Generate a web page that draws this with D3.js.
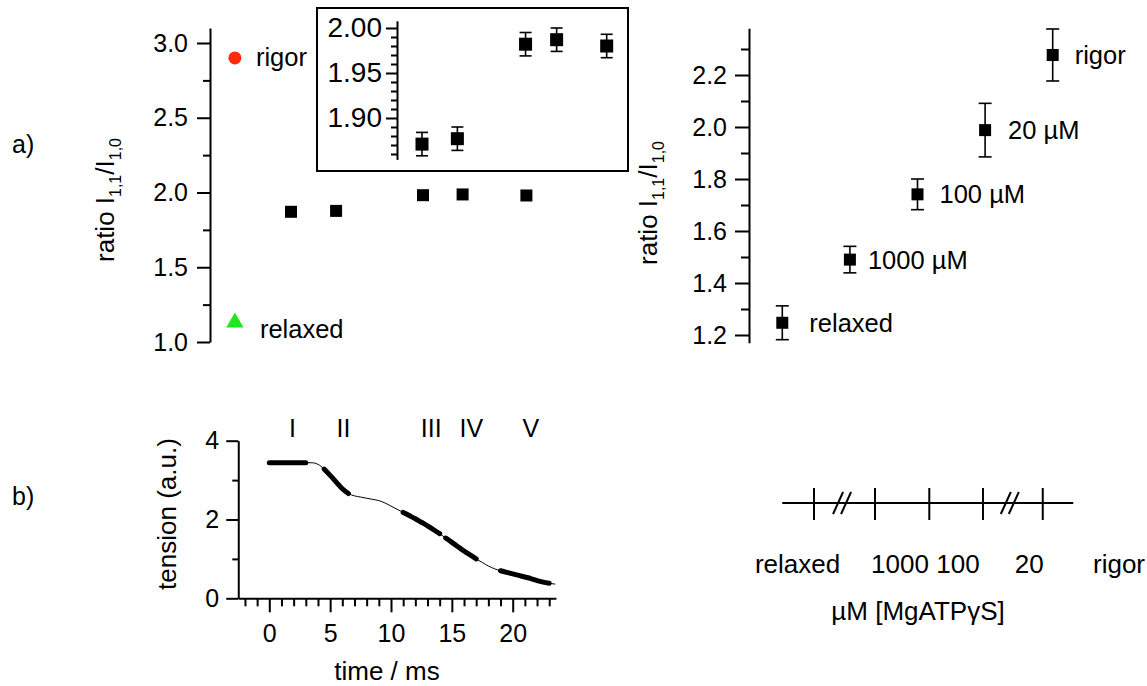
<!DOCTYPE html>
<html>
<head>
<meta charset="utf-8">
<script src="https://cdn.jsdelivr.net/npm/d3@7"></script>
<style>
  body { margin: 0; background: #fff; }
  svg text { font-family: "Liberation Sans", Arial, sans-serif; fill: #000; }
  .axis .domain, .axis line { stroke: #000; stroke-width: 2; }
</style>
</head>
<body>
<svg id="chart" width="1147" height="686"></svg>
<script>
// ---- data ----
// a) left: ratio per phase (x position ~ time in ms)
const phaseTime = [1.5, 5.6, 13.5, 17.1, 22.9];
const phaseRatio = [1.871, 1.877, 1.982, 1.987, 1.980];
const phaseErr = [0.013, 0.013, 0.013, 0.013, 0.013];
const refNames = ['rigor', 'relaxed'];
const refRatio = [2.90, 1.13];
const refColor = ['#ff2b0a', '#1ee81e'];
const refTime = -3.6;

// a) right: ratio vs MgATPgS concentration
const concNames = ['relaxed', '1000 µM', '100 µM', '20 µM', 'rigor'];
const concRatio = [1.247, 1.490, 1.741, 1.988, 2.277];
const concErr = [0.065, 0.051, 0.059, 0.103, 0.100];
const concLabelGap = [27, 18, 22, 23, 22];

// b) left: tension transient
const tTime = [0, 1, 2, 3, 3.5, 4, 4.5, 5, 5.5, 6, 6.5, 7, 7.5, 8, 8.5, 9, 9.5, 10, 10.5, 11, 11.5,
  12, 12.5, 13, 13.5, 14, 14.5, 15, 15.5, 16, 16.5, 17, 17.5, 18, 18.5, 19, 19.5, 20, 20.5, 21, 21.5,
  22, 22.5, 23, 23.5];
const tTension = [3.44, 3.44, 3.44, 3.44, 3.44, 3.40, 3.28, 3.12, 2.95, 2.78, 2.66, 2.60, 2.57, 2.54,
  2.51, 2.48, 2.42, 2.34, 2.26, 2.18, 2.10, 2.02, 1.93, 1.84, 1.74, 1.64, 1.53, 1.42, 1.31, 1.20, 1.10,
  1.00, 0.91, 0.82, 0.75, 0.70, 0.66, 0.62, 0.58, 0.54, 0.50, 0.45, 0.41, 0.38, 0.36];
const phaseNames = ['I', 'II', 'III', 'IV', 'V'];
const phaseStart = [0, 4.5, 11, 14.5, 19];
const phaseEnd = [3, 6.5, 14, 17, 23];
const phaseLabelTime = [1.9, 6.1, 13.3, 16.6, 21.5];

// b) right: concentration scale sketch
const concTickPos = [0, 1, 1.89, 2.77, 3.75];
const concBreakPos = [0.46, 3.21];
const concLabelText = ['relaxed', '1000', '100', '20', 'rigor'];
const concLabelPos = [-0.27, 1.41, 2.36, 3.53, 5.0];
const concLineExtent = [-0.52, 4.25];

// ---- helpers ----
const svg = d3.select('#chart');

function yAxis(scale, x, majors, minors, fmt, opts) {
  const g = svg.append('g').attr('class', 'axis').attr('transform', `translate(${x},0)`);
  g.call(d3.axisLeft(scale).tickValues(majors).tickSize(opts.major).tickSizeOuter(0)
    .tickPadding(opts.pad).tickFormat(fmt));
  g.selectAll('text').style('font-size', opts.font + 'px');
  const m = svg.append('g').attr('class', 'axis').attr('transform', `translate(${x},0)`);
  m.call(d3.axisLeft(scale).tickValues(minors).tickSize(opts.minor).tickSizeOuter(0).tickFormat(''));
  m.select('.domain').remove();
  return g;
}

function ratioTitle(x, y) {
  const t = svg.append('text')
    .attr('transform', `translate(${x},${y}) rotate(-90)`)
    .attr('text-anchor', 'middle')
    .style('font-size', '26px');
  t.append('tspan').text('ratio I');
  t.append('tspan').attr('dy', 7).style('font-size', '16px').text('1,1');
  t.append('tspan').attr('dy', -7).text('/I');
  t.append('tspan').attr('dy', 7).style('font-size', '16px').text('1,0');
}

function squares(xs, ys, size) {
  svg.append('g').selectAll('rect')
    .data(d3.range(xs.length))
    .join('rect')
    .attr('x', i => xs[i] - size / 2)
    .attr('y', i => ys[i] - size / 2)
    .attr('width', size)
    .attr('height', size)
    .attr('fill', '#000');
}

function errorBars(xs, yTop, yBot, cap) {
  const g = svg.append('g').attr('stroke', '#000').attr('stroke-width', 1.6);
  xs.forEach((x, i) => {
    g.append('line').attr('x1', x).attr('x2', x).attr('y1', yTop[i]).attr('y2', yBot[i]);
    g.append('line').attr('x1', x - cap / 2).attr('x2', x + cap / 2).attr('y1', yTop[i]).attr('y2', yTop[i]);
    g.append('line').attr('x1', x - cap / 2).attr('x2', x + cap / 2).attr('y1', yBot[i]).attr('y2', yBot[i]);
  });
}

// ---- panel a) left ----
const xA = d3.scaleLinear().domain([-5, 25]).range([219.5, 549.5]);
const yA = d3.scaleLinear().domain([1.0, 3.1]).range([342, 342 - 2.1 * 149.5]);
yAxis(yA, 210, [1.0, 1.5, 2.0, 2.5, 3.0], [1.25, 1.75, 2.25, 2.75], d3.format('.1f'),
  { major: 13, minor: 7, pad: 9, font: 25 });
ratioTitle(114, 200);

squares(phaseTime.map(xA), phaseRatio.map(yA), 12);

svg.append('circle').attr('cx', xA(refTime)).attr('cy', yA(refRatio[0])).attr('r', 6.5).attr('fill', refColor[0]);
svg.append('path')
  .attr('d', d3.symbol(d3.symbolTriangle, 130)())
  .attr('transform', `translate(${xA(refTime)},${yA(refRatio[1])})`)
  .attr('fill', refColor[1]);
svg.append('text').attr('x', xA(refTime) + 21).attr('y', yA(refRatio[0]) + 8)
  .style('font-size', '25.5px').text(refNames[0]);
svg.append('text').attr('x', xA(refTime) + 25).attr('y', yA(refRatio[1]) + 15)
  .style('font-size', '25.5px').text(refNames[1]);

svg.append('text').attr('x', 12).attr('y', 153).style('font-size', '25px').text('a)');

// inset
svg.append('rect').attr('x', 317).attr('y', 8).attr('width', 311).attr('height', 163)
  .attr('fill', '#fff').attr('stroke', '#000').attr('stroke-width', 2);
const xI = d3.scaleLinear().domain([-5, 25]).range([422 - 6.5 * 8.63, 422 + 23.5 * 8.63]);
const yI = d3.scaleLinear().domain([1.854, 2.008]).range([118 + 0.046 * 900, 118 - 0.108 * 900]);
yAxis(yI, 397, [1.90, 1.95, 2.00], [1.86, 1.87, 1.88, 1.89, 1.91, 1.92, 1.93, 1.94, 1.96, 1.97, 1.98, 1.99],
  d3.format('.2f'), { major: 11, minor: 6, pad: 4, font: 28 });
errorBars(phaseTime.map(xI), phaseRatio.map((v, i) => yI(v + phaseErr[i])),
  phaseRatio.map((v, i) => yI(v - phaseErr[i])), 12);
squares(phaseTime.map(xI), phaseRatio.map(yI), 13);

// ---- panel a) right ----
const xB = d3.scaleLinear().domain([0, 4]).range([782.3, 782.3 + 4 * 67.6]);
const yB = d3.scaleLinear().domain([1.17, 2.38]).range([335 + 0.03 * 260, 335 - 1.18 * 260]);
yAxis(yB, 749, [1.2, 1.4, 1.6, 1.8, 2.0, 2.2], [1.3, 1.5, 1.7, 1.9, 2.1, 2.3], d3.format('.1f'),
  { major: 14, minor: 8, pad: 8, font: 25 });
ratioTitle(657, 203);
const concIdx = d3.range(concNames.length);
errorBars(concIdx.map(xB), concRatio.map((v, i) => yB(v + concErr[i])),
  concRatio.map((v, i) => yB(v - concErr[i])), 13);
squares(concIdx.map(xB), concRatio.map(yB), 12);
svg.append('g').selectAll('text')
  .data(concIdx)
  .join('text')
  .attr('x', i => xB(i) + concLabelGap[i])
  .attr('y', i => yB(concRatio[i]) + 9)
  .style('font-size', '25.5px')
  .text(i => concNames[i]);

// ---- panel b) left ----
const xT = d3.scaleLinear().domain([-2.55, 23.55]).range([269.3 - 2.55 * 12.17, 269.3 + 23.55 * 12.17]);
const yT = d3.scaleLinear().domain([0, 4]).range([598.3, 440.7]);
yAxis(yT, xT.range()[0], [0, 2, 4], [1, 3], d3.format('d'), { major: 12, minor: 6, pad: 7, font: 25 });

const gx = svg.append('g').attr('class', 'axis').attr('transform', `translate(0,${yT(0)})`);
gx.call(d3.axisBottom(xT).tickValues([0, 5, 10, 15, 20]).tickSize(14).tickSizeOuter(0).tickPadding(12)
  .tickFormat(d3.format('d')));
gx.selectAll('text').style('font-size', '25px');
const gxm = svg.append('g').attr('class', 'axis').attr('transform', `translate(0,${yT(0)})`);
gxm.call(d3.axisBottom(xT).tickValues(d3.range(-2, 24).filter(d => d % 5 !== 0)).tickSize(8)
  .tickSizeOuter(0).tickFormat(''));
gxm.select('.domain').remove();

const tensionPts = tTime.map((t, i) => [t, tTension[i]]);
const line = d3.line().x(d => xT(d[0])).y(d => yT(d[1])).curve(d3.curveMonotoneX);
svg.append('path').datum(tensionPts).attr('d', line)
  .attr('fill', 'none').attr('stroke', '#000').attr('stroke-width', 1);
phaseNames.forEach((p, i) => {
  const seg = tensionPts.filter(d => d[0] >= phaseStart[i] && d[0] <= phaseEnd[i]);
  svg.append('path').datum(seg).attr('d', line)
    .attr('fill', 'none').attr('stroke', '#000').attr('stroke-width', 5).attr('stroke-linecap', 'round');
  svg.append('text').attr('x', xT(phaseLabelTime[i])).attr('y', 437)
    .attr('text-anchor', 'middle').style('font-size', '25px').text(p);
});

svg.append('text').attr('transform', `translate(176,514) rotate(-90)`)
  .attr('text-anchor', 'middle').style('font-size', '26px').text('tension (a.u.)');
svg.append('text').attr('x', 387).attr('y', 680).attr('text-anchor', 'middle')
  .style('font-size', '26px').text('time / ms');
svg.append('text').attr('x', 12).attr('y', 505).style('font-size', '25px').text('b)');

// ---- panel b) right ----
const xC = d3.scaleLinear().domain([0, 1]).range([814, 875]);
const cY = 503;
const gc = svg.append('g').attr('stroke', '#000').attr('stroke-width', 2);
gc.append('line').attr('x1', xC(concLineExtent[0])).attr('x2', xC(concLineExtent[1]))
  .attr('y1', cY).attr('y2', cY);
concTickPos.forEach(p => {
  gc.append('line').attr('x1', xC(p)).attr('x2', xC(p)).attr('y1', cY - 15).attr('y2', cY + 17);
});
concBreakPos.forEach(p => {
  [-4, 4].forEach(o => {
    gc.append('line').attr('x1', xC(p) + o - 5).attr('x2', xC(p) + o + 5)
      .attr('y1', cY + 11).attr('y2', cY - 11);
  });
});
svg.append('g').selectAll('text')
  .data(concLabelText)
  .join('text')
  .attr('x', (d, i) => xC(concLabelPos[i]))
  .attr('y', 573)
  .attr('text-anchor', 'middle')
  .style('font-size', '26px')
  .text(d => d);
svg.append('text').attr('x', 918).attr('y', 620).attr('text-anchor', 'middle')
  .style('font-size', '26px').text('µM [MgATPγS]');
</script>
</body>
</html>
